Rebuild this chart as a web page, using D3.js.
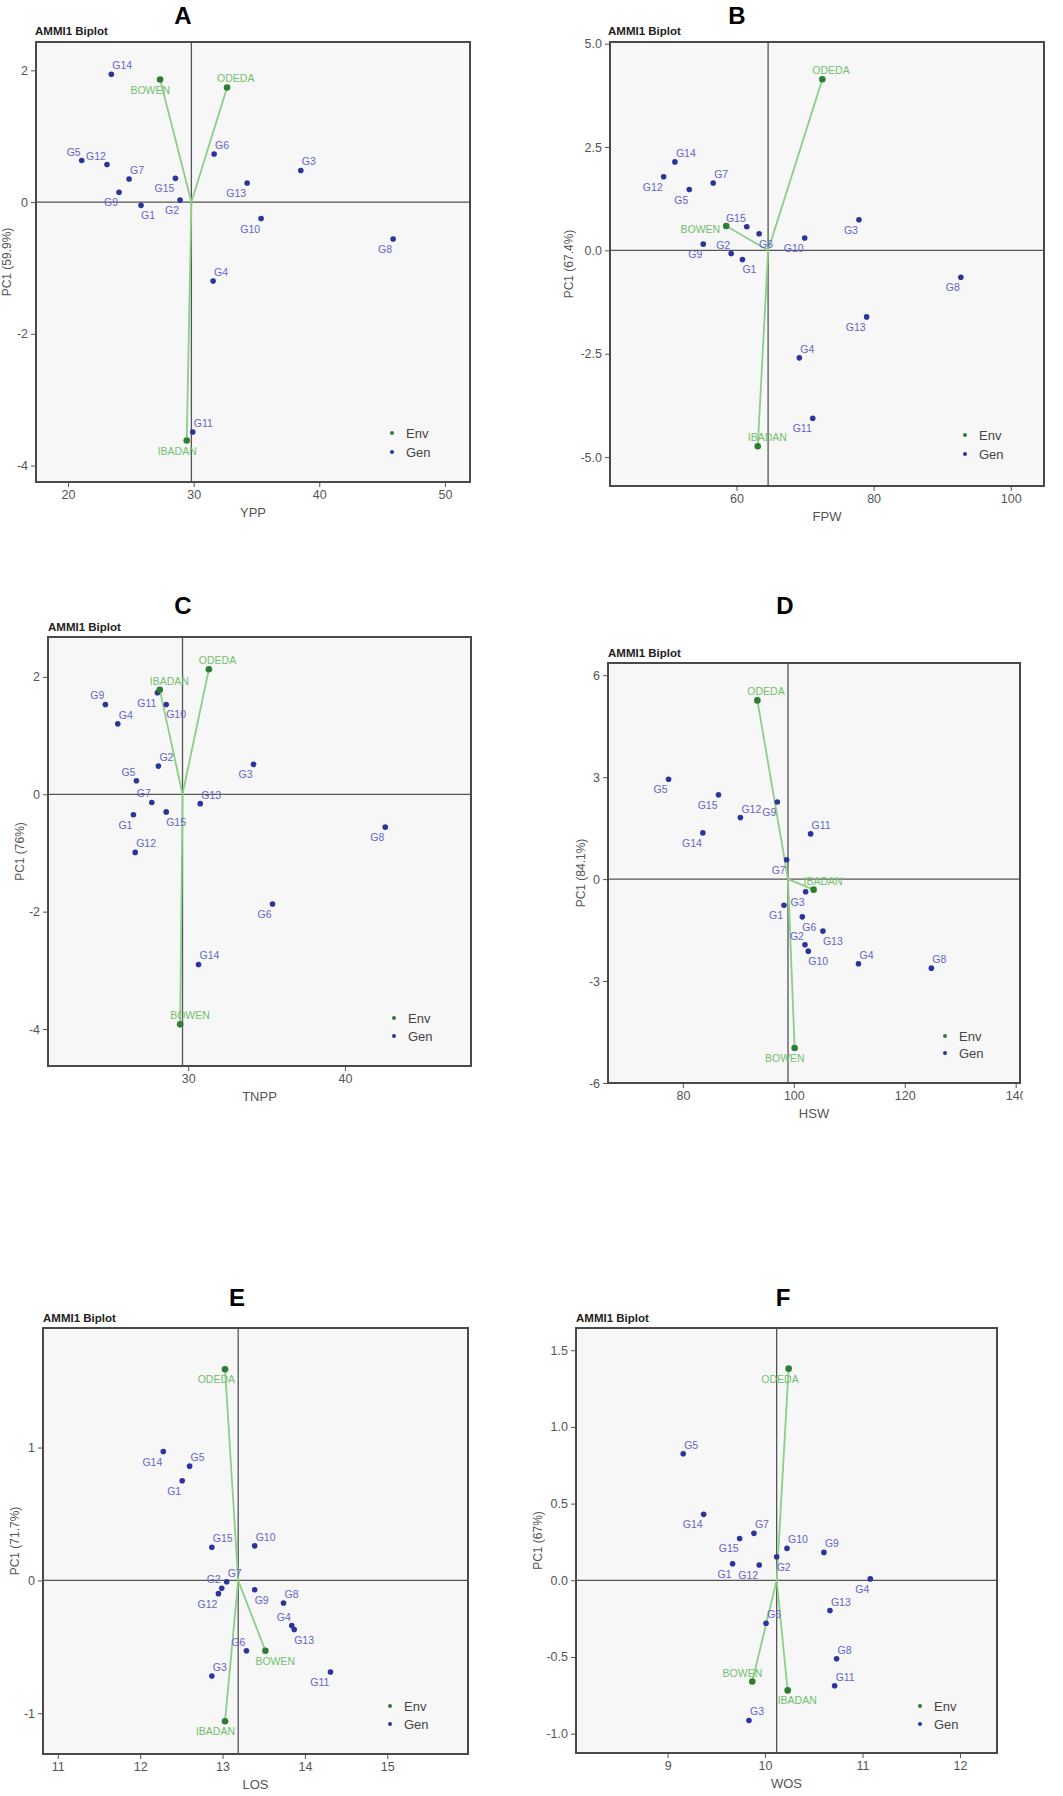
<!DOCTYPE html>
<html><head><meta charset="utf-8">
<script src="https://cdn.jsdelivr.net/npm/d3@7"></script>
<style>
html,body{margin:0;padding:0;background:#fff;}
svg{display:block;font-family:"Liberation Sans",Arial,sans-serif;}
</style></head>
<body>
<svg id="chart" width="1063" height="1796"></svg>
<script>
// ---------------- DATA ----------------
const genotypes = ["G1","G2","G3","G4","G5","G6","G7","G8","G9","G10","G11","G12","G13","G14","G15"];
const environments = ["BOWEN","IBADAN","ODEDA"];

// A: YPP
const genMean_YPP = [25.81,28.92,38.53,31.55,21.09,31.63,24.86,45.88,24.06,35.37,29.93,23.10,34.26,23.45,28.55];
const genPC1_YPP  = [-0.05,0.03,0.48,-1.20,0.63,0.73,0.35,-0.56,0.15,-0.25,-3.49,0.57,0.29,1.94,0.36];
const envMean_YPP = [27.33,29.45,32.66];
const envPC1_YPP  = [1.86,-3.62,1.74];
const grandMean_YPP = 29.82;

// B: FPW
const genMean_FPW = [60.87,59.22,77.86,69.17,53.11,63.30,56.60,92.72,55.15,69.95,71.12,49.37,78.98,51.02,61.50];
const genPC1_FPW  = [-0.22,-0.08,0.74,-2.60,1.47,0.40,1.63,-0.65,0.15,0.30,-4.06,1.78,-1.61,2.14,0.57];
const envMean_FPW = [58.50,63.10,72.52];
const envPC1_FPW  = [0.59,-4.74,4.14];
const grandMean_FPW = 64.61;

// C: TNPP
const genMean_TNPP = [26.51,28.10,34.17,25.51,26.70,35.38,27.68,42.57,24.72,28.60,28.04,26.62,30.77,30.66,28.60];
const genPC1_TNPP  = [-0.35,0.48,0.51,1.20,0.23,-1.87,-0.14,-0.56,1.53,1.53,1.73,-0.99,-0.16,-2.90,-0.30];
const envMean_TNPP = [29.49,28.19,31.32];
const envPC1_TNPP  = [-3.92,1.78,2.13];
const grandMean_TNPP = 29.64;

// D: HSW
const genMean_HSW = [98.23,102.01,102.13,111.66,77.42,101.53,98.71,124.80,97.03,102.61,103.03,90.37,105.25,83.60,86.42];
const genPC1_HSW  = [-0.77,-1.93,-0.37,-2.49,2.94,-1.11,0.57,-2.62,2.27,-2.12,1.33,1.81,-1.53,1.36,2.48];
const envMean_HSW = [100.15,103.57,93.43];
const envPC1_HSW  = [-4.97,-0.31,5.26];
const grandMean_HSW = 98.95;

// E: LOS
const genMean_LOS = [12.51,12.99,12.87,13.84,12.60,13.29,13.05,13.74,13.39,13.39,14.31,12.95,13.87,12.28,12.87];
const genPC1_LOS  = [0.75,-0.06,-0.72,-0.34,0.86,-0.53,-0.01,-0.17,-0.07,0.26,-0.69,-0.10,-0.37,0.97,0.25];
const envMean_LOS = [13.52,13.03,13.03];
const envPC1_LOS  = [-0.53,-1.06,1.59];
const grandMean_LOS = 13.19;

// F: WOS
const genMean_WOS = [9.667,10.119,9.835,11.08,9.16,10.01,9.886,10.734,10.604,10.225,10.714,9.94,10.666,9.37,9.739];
const genPC1_WOS  = [0.108,0.154,-0.914,0.009,0.825,-0.28,0.306,-0.512,0.182,0.208,-0.688,0.10,-0.197,0.43,0.273];
const envMean_WOS = [9.869,10.232,10.242];
const envPC1_WOS  = [-0.66,-0.718,1.38];
const grandMean_WOS = 10.119;

// tick labels
const xTicks = {A:[20,30,40,50], B:[60,80,100], C:[30,40], D:[80,100,120,140], E:[11,12,13,14,15], F:[9,10,11,12]};
const yTicks = {A:[-4,-2,0,2], B:[-5,-2.5,0,2.5,5], C:[-4,-2,0,2], D:[-6,-3,0,3,6], E:[-1,0,1], F:[-1,-0.5,0,0.5,1,1.5]};
const pcLabels = {A:"PC1 (59.9%)", B:"PC1 (67.4%)", C:"PC1 (76%)", D:"PC1 (84.1%)", E:"PC1 (71.7%)", F:"PC1 (67%)"};
const traitLabels = {A:"YPP", B:"FPW", C:"TNPP", D:"HSW", E:"LOS", F:"WOS"};

// ---------------- LAYOUT (positions / label placement) ----------------
const layout = {
  A:{L:36,R:470,T:42,B:482, xd:[17.45,52], yd:[-4.25,2.43], title:[183,15], sub:[35,31], leg:[392,433,452], ytx:7, fmt:"d"},
  B:{L:610,R:1044,T:42,B:486, xd:[41.55,104.85], yd:[-5.70,5.04], title:[737,15], sub:[608,31], leg:[965,435,454], ytx:569, fmt:".1f"},
  C:{L:48,R:471,T:637,B:1066, xd:[21.06,48.04], yd:[-4.63,2.68], title:[183,605], sub:[48,627], leg:[394,1018,1036], ytx:20, fmt:"d"},
  D:{L:608,R:1020,T:663,B:1083, xd:[66.5,140.78], yd:[-6,6.36], title:[785,605], sub:[608,653], leg:[945,1036,1053], ytx:581, fmt:"d", clip:1023},
  E:{L:43,R:468,T:1328,B:1754, xd:[10.82,15.98], yd:[-1.307,1.90], title:[237,1297], sub:[43,1318], leg:[390,1706,1724], ytx:15, fmt:"d"},
  F:{L:576,R:997,T:1328,B:1753, xd:[8.06,12.38], yd:[-1.126,1.645], title:[783,1297], sub:[576,1318], leg:[920,1706,1724], ytx:538, fmt:".1f"}
};
const genSide = {
  A:["lr","ll","ur","ur","ul","ur","ur","ll","ll","ll","ur","ul","ll","ur","ll"],
  B:["lr","ul","ll","ur","ll","lr","ur","ll","ll","ll","ll","ll","ll","ur","ul"],
  C:["ll","ur","ll","ur","ul","ll","ul","ll","ul","lr","ll","ur","ur","ur","lr"],
  D:["ll","ul","ll","ur","ll","lr","ll","ur","ll","lr","ur","ur","lr","ll","ll"],
  E:["ll","ul","ur","ul","ur","ul","ur","ur","lr","ur","ll","ll","lr","ll","ur"],
  F:["ll","lr","ur","ll","ur","ur","ur","ur","ur","ur","ur","ll","ur","ll","ll"]
};
const envSide = {
  A:["ll","ll","ur"], B:["l","ur","ur"], C:["ur","ur","ur"],
  D:["ll","ur","ur"], E:["lr","ll","ll"], F:["ul","lr","ll"]
};
const genOff = {ur:["start",1,-5], ul:["end",-1,-5], lr:["start",0,14], ll:["end",-1,14]};
const envOff = {ur:["start",-10,-5], ul:["end",10,-5], lr:["start",-10,14], ll:["end",10,14], l:["end",-6,7]};

const panels = [
  {k:"A", gm:genMean_YPP, gp:genPC1_YPP, em:envMean_YPP, ep:envPC1_YPP, mu:grandMean_YPP},
  {k:"B", gm:genMean_FPW, gp:genPC1_FPW, em:envMean_FPW, ep:envPC1_FPW, mu:grandMean_FPW},
  {k:"C", gm:genMean_TNPP, gp:genPC1_TNPP, em:envMean_TNPP, ep:envPC1_TNPP, mu:grandMean_TNPP},
  {k:"D", gm:genMean_HSW, gp:genPC1_HSW, em:envMean_HSW, ep:envPC1_HSW, mu:grandMean_HSW},
  {k:"E", gm:genMean_LOS, gp:genPC1_LOS, em:envMean_LOS, ep:envPC1_LOS, mu:grandMean_LOS},
  {k:"F", gm:genMean_WOS, gp:genPC1_WOS, em:envMean_WOS, ep:envPC1_WOS, mu:grandMean_WOS}
];

// ---------------- COLORS ----------------
const C_GENDOT = "#2b339c", C_GENTXT = "#6464cc", C_ENVDOT = "#2e7d32", C_ENVTXT = "#72c06e",
      C_VEC = "#8ccf86", C_AX = "#555", C_BORDER = "#4a4a4a", C_BG = "#f7f7f7";

const svg = d3.select("#chart");
const defs = svg.append("defs");

panels.forEach(p => {
  const Ly = layout[p.k];
  const g = svg.append("g");
  if (Ly.clip) {
    defs.append("clipPath").attr("id","clip"+p.k).append("rect")
      .attr("x",0).attr("y",0).attr("width",Ly.clip).attr("height",1796);
    g.attr("clip-path","url(#clip"+p.k+")");
  }
  const x = d3.scaleLinear().domain(Ly.xd).range([Ly.L, Ly.R]);
  const y = d3.scaleLinear().domain(Ly.yd).range([Ly.B, Ly.T]);

  // panel letter
  g.append("text").attr("x",Ly.title[0]).attr("y",Ly.title[1]+8.5)
    .attr("text-anchor","middle").attr("font-size",24).attr("font-weight","bold")
    .attr("fill","#000").text(p.k);
  g.append("text").attr("x",Ly.sub[0]).attr("y",Ly.sub[1]+4)
    .attr("font-size",11.5).attr("font-weight","bold").attr("fill","#222").text("AMMI1 Biplot");

  // background
  g.append("rect").attr("x",Ly.L).attr("y",Ly.T).attr("width",Ly.R-Ly.L).attr("height",Ly.B-Ly.T)
    .attr("fill",C_BG);

  // axes (hyphen minus like the reference)
  const base = d3.format(Ly.fmt);
  const fmt = v => base(v).replace("\u2212","-");
  const ax = g.append("g").attr("transform",`translate(0,${Ly.B})`)
    .call(d3.axisBottom(x).tickValues(xTicks[p.k]).tickFormat(d3.format("d")).tickSize(5).tickPadding(3));
  const ay = g.append("g").attr("transform",`translate(${Ly.L},0)`)
    .call(d3.axisLeft(y).tickValues(yTicks[p.k]).tickFormat(fmt).tickSize(5).tickPadding(3));
  [ax,ay].forEach(a => {
    a.select(".domain").remove();
    a.selectAll("line").attr("stroke",C_AX).attr("stroke-width",1);
    a.selectAll("text").attr("fill",C_AX).attr("font-size",12.5)
      .attr("font-family","'Liberation Sans',Arial,sans-serif");
  });

  // axis titles
  g.append("text").attr("x",(Ly.L+Ly.R)/2).attr("y",Ly.B+34.5).attr("text-anchor","middle")
    .attr("font-size",13).attr("fill",C_AX).text(traitLabels[p.k]);
  g.append("text").attr("transform",`translate(${Ly.ytx+4},${(Ly.T+Ly.B)/2}) rotate(-90)`)
    .attr("text-anchor","middle").attr("font-size",12).attr("fill",C_AX).text(pcLabels[p.k]);

  // reference lines
  g.append("line").attr("x1",Ly.L).attr("x2",Ly.R).attr("y1",y(0)).attr("y2",y(0))
    .attr("stroke",C_AX).attr("stroke-width",1.3);
  g.append("line").attr("x1",x(p.mu)).attr("x2",x(p.mu)).attr("y1",Ly.T).attr("y2",Ly.B)
    .attr("stroke",C_AX).attr("stroke-width",1.3);

  // environment vectors
  const envs = environments.map((n,i)=>({n, xv:p.em[i], yv:p.ep[i], side:envSide[p.k][i]}));
  const gens = genotypes.map((n,i)=>({n, xv:p.gm[i], yv:p.gp[i], side:genSide[p.k][i]}));
  g.selectAll(".vec").data(envs).join("line")
    .attr("x1",x(p.mu)).attr("y1",y(0)).attr("x2",d=>x(d.xv)).attr("y2",d=>y(d.yv))
    .attr("stroke",C_VEC).attr("stroke-width",1.8);

  // genotype points & labels
  g.selectAll(".gd").data(gens).join("circle")
    .attr("cx",d=>x(d.xv)).attr("cy",d=>y(d.yv)).attr("r",2.8).attr("fill",C_GENDOT);
  g.selectAll(".gl").data(gens).join("text")
    .attr("x",d=>x(d.xv)+genOff[d.side][1]).attr("y",d=>y(d.yv)+genOff[d.side][2])
    .attr("text-anchor",d=>genOff[d.side][0]).attr("font-size",10.5).attr("fill",C_GENTXT).text(d=>d.n);

  // environment points & labels
  g.selectAll(".ed").data(envs).join("circle")
    .attr("cx",d=>x(d.xv)).attr("cy",d=>y(d.yv)).attr("r",3.3).attr("fill",C_ENVDOT);
  g.selectAll(".el").data(envs).join("text")
    .attr("x",d=>x(d.xv)+envOff[d.side][1]).attr("y",d=>y(d.yv)+envOff[d.side][2])
    .attr("text-anchor",d=>envOff[d.side][0]).attr("font-size",10.5).attr("fill",C_ENVTXT).text(d=>d.n);

  // legend
  const leg = [{t:"Env",c:C_ENVDOT,yy:Ly.leg[1]},{t:"Gen",c:C_GENDOT,yy:Ly.leg[2]}];
  leg.forEach(l => {
    g.append("circle").attr("cx",Ly.leg[0]).attr("cy",l.yy).attr("r",2).attr("fill",l.c);
    g.append("text").attr("x",Ly.leg[0]+14).attr("y",l.yy+4.5).attr("font-size",13)
      .attr("fill","#444").text(l.t);
  });

  // border
  g.append("rect").attr("x",Ly.L).attr("y",Ly.T).attr("width",Ly.R-Ly.L).attr("height",Ly.B-Ly.T)
    .attr("fill","none").attr("stroke",C_BORDER).attr("stroke-width",2);
});
</script>
</body></html>
